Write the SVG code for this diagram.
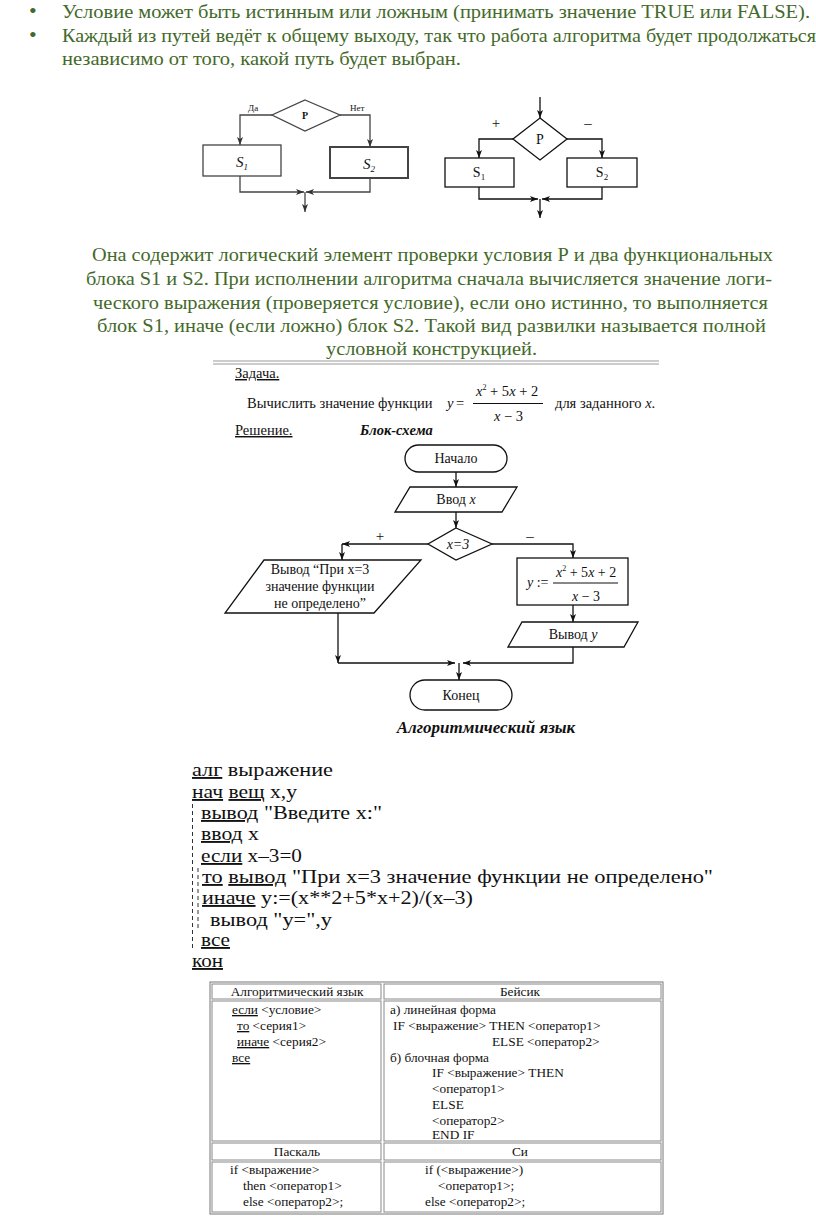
<svg xmlns="http://www.w3.org/2000/svg" width="816" height="1219" viewBox="0 0 816 1219" font-family="'Liberation Serif','DejaVu Serif',serif">
<style>
text,tspan{font-family:"Liberation Serif","DejaVu Serif",serif;fill:#111}
.g{fill:#44692a;font-size:19.5px}
.s{fill:none;stroke:#111;stroke-width:1.3}
.sg{fill:none;stroke:#444;stroke-width:1.3}
.fc{font-size:14px}
.it{font-style:italic}
.code{font-size:18.8px}
.tb{font-size:13.3px}
.cell{fill:none;stroke:#888;stroke-width:1}
.u{text-decoration:underline}
</style>
<defs>
<marker id="arr" markerUnits="userSpaceOnUse" markerWidth="8" markerHeight="6" refX="8" refY="3" orient="auto">
<path d="M0,0 L8,3 L0,6 L2,3 z" fill="#111"/>
</marker>
<marker id="arrg" markerUnits="userSpaceOnUse" markerWidth="8" markerHeight="6" refX="8" refY="3" orient="auto">
<path d="M0,0 L8,3 L0,6 L2,3 z" fill="#333"/>
</marker>
</defs>

<g id="intro">
<text class="g" x="29" y="18" style="font-size:22px">•</text>
<text class="g" x="62" y="18" textLength="748" lengthAdjust="spacingAndGlyphs">Условие может быть истинным или ложным (принимать значение TRUE или FALSE).</text>
<text class="g" x="29" y="42" style="font-size:22px">•</text>
<text class="g" x="62" y="42" textLength="754" lengthAdjust="spacingAndGlyphs">Каждый из путей ведёт к общему выходу, так что работа алгоритма будет продолжаться</text>
<text class="g" x="62" y="65" textLength="399" lengthAdjust="spacingAndGlyphs">независимо от того, какой путь будет выбран.</text>
</g>

<!-- left small diagram -->
<g id="d1-connectors">
<polyline class="sg" points="272,115 240,115 240,145" marker-end="url(#arrg)"/>
<polyline class="sg" points="340,115 370,115 370,147" marker-end="url(#arrg)"/>
<polyline class="sg" points="240,176 240,192 304,192" marker-end="url(#arrg)"/>
<polyline class="sg" points="370,178 370,192 306,192" marker-end="url(#arrg)"/>
<line class="sg" x1="305" y1="192" x2="305" y2="212" marker-end="url(#arrg)"/>
<text x="248" y="111" style="font-size:9px">Да</text>
<text x="350" y="111" style="font-size:9px">Нет</text>
</g>
<g id="d1-P">
<polygon class="sg" points="305,100 340,115 305,131 272,115"/>
<text x="305" y="119" text-anchor="middle" style="font-size:10px;font-weight:bold">P</text>
</g>
<g id="d1-S1">
<rect class="sg" x="203" y="145" width="78" height="31"/>
<text x="242" y="167" text-anchor="middle" class="it" style="font-size:15px">S<tspan dy="3" style="font-size:9px">1</tspan></text>
</g>
<g id="d1-S2">
<rect class="sg" x="330" y="147" width="78" height="31" style="stroke-width:2"/>
<text x="369" y="169" text-anchor="middle" class="it" style="font-size:15px">S<tspan dy="3" style="font-size:9px">2</tspan></text>
</g>

<!-- right small diagram -->
<g id="d2-connectors">
<line class="s" x1="540" y1="97" x2="540" y2="118" marker-end="url(#arr)"/>
<polyline class="s" points="513,139 479,139 479,158" marker-end="url(#arr)"/>
<polyline class="s" points="567,139 602,139 602,158" marker-end="url(#arr)"/>
<polyline class="s" points="479,187 479,199 538,199" marker-end="url(#arr)"/>
<polyline class="s" points="602,187 602,199 542,199" marker-end="url(#arr)"/>
<line class="s" x1="540" y1="199" x2="540" y2="218" marker-end="url(#arr)"/>
<text x="496" y="128" text-anchor="middle" style="font-size:15px">+</text>
<text x="588" y="128" text-anchor="middle" style="font-size:15px">–</text>
</g>
<g id="d2-P">
<polygon class="s" points="540,118 567,139 540,160 513,139"/>
<text x="540" y="144" text-anchor="middle" style="font-size:14px">P</text>
</g>
<g id="d2-S1">
<rect class="s" x="445" y="158" width="69" height="29"/>
<text x="479" y="177" text-anchor="middle" style="font-size:14px">S<tspan dy="3" style="font-size:9px">1</tspan></text>
</g>
<g id="d2-S2">
<rect class="s" x="567" y="158" width="70" height="29"/>
<text x="602" y="177" text-anchor="middle" style="font-size:14px">S<tspan dy="3" style="font-size:9px">2</tspan></text>
</g>

<g id="paragraph">
<text class="g" x="92" y="261" textLength="681" lengthAdjust="spacingAndGlyphs">Она содержит логический элемент проверки условия Р и два функциональных</text>
<text class="g" x="86" y="285" textLength="686" lengthAdjust="spacingAndGlyphs">блока S1 и S2. При исполнении алгоритма сначала вычисляется значение логи-</text>
<text class="g" x="93" y="309" textLength="675" lengthAdjust="spacingAndGlyphs">ческого выражения (проверяется условие), если оно истинно, то выполняется</text>
<text class="g" x="97" y="332" textLength="669" lengthAdjust="spacingAndGlyphs">блок S1, иначе (если ложно) блок S2. Такой вид развилки называется полной</text>
<text class="g" x="326" y="355" textLength="211" lengthAdjust="spacingAndGlyphs">условной конструкцией.</text>
</g>
<g id="separator">
<line x1="213" y1="361" x2="659" y2="361" stroke="#999" stroke-width="1"/>
<line x1="213" y1="364" x2="659" y2="364" stroke="#999" stroke-width="1"/>
</g>

<g id="task" style="font-size:14.5px">
<text x="235" y="378" class="u">Задача.</text>
<text x="247" y="408">Вычислить значение функции</text>
<text x="447" y="408" class="it">y</text>
<text x="456" y="408">=</text>
<line x1="473" y1="403.5" x2="543" y2="403.5" stroke="#111" stroke-width="1"/>
<text x="476" y="396"><tspan class="it">x</tspan><tspan dy="-6" style="font-size:8px">2</tspan><tspan dy="6"> + 5</tspan><tspan class="it">x</tspan> + 2</text>
<text x="494" y="421"><tspan class="it">x</tspan> − 3</text>
<text x="555" y="408">для заданного <tspan class="it">x</tspan>.</text>
<text x="235" y="435" class="u">Решение.</text>
<text x="360" y="435" style="font-weight:bold;font-style:italic">Блок-схема</text>
</g>

<!-- flowchart -->
<g id="fc-connectors">
<line class="s" x1="456" y1="472" x2="456" y2="487" marker-end="url(#arr)"/>
<line class="s" x1="456" y1="512" x2="456" y2="528" marker-end="url(#arr)"/>
<polyline class="s" points="428,544 342,544" marker-end="url(#arr)"/>
<line class="s" x1="342" y1="544" x2="342" y2="560" marker-end="url(#arr)"/>
<polyline class="s" points="492,544 573,544 573,558" marker-end="url(#arr)"/>
<line class="s" x1="573" y1="605" x2="573" y2="622" marker-end="url(#arr)"/>
<polyline class="s" points="573,647 573,663 463,663" marker-end="url(#arr)"/>
<polyline class="s" points="338,613 338,663" marker-end="url(#arr)"/>
<polyline class="s" points="338,663 455,663" marker-end="url(#arr)"/>
<line class="s" x1="459" y1="663" x2="459" y2="680" marker-end="url(#arr)"/>
<text x="380" y="541" text-anchor="middle" style="font-size:15px">+</text>
<text x="530" y="541" text-anchor="middle" style="font-size:15px">–</text>
</g>
<g id="fc-start">
<rect class="s" x="405" y="445" width="102" height="27" rx="13.5"/>
<text class="fc" x="456" y="463" text-anchor="middle">Начало</text>
</g>
<g id="fc-input">
<polygon class="s" points="410,487 517,487 502,512 395,512"/>
<text class="fc" x="456" y="504" text-anchor="middle">Ввод <tspan class="it">x</tspan></text>
</g>
<g id="fc-cond">
<polygon class="s" points="456,528 492,544 456,560 428,544"/>
<text class="fc it" x="458" y="549" text-anchor="middle">x=3</text>
</g>
<g id="fc-out1">
<polygon class="s" points="264,560 421,560 374,613 225,613"/>
<text class="fc" x="320" y="574" text-anchor="middle">Вывод “При x=3</text>
<text class="fc" x="320" y="591" text-anchor="middle">значение функции</text>
<text class="fc" x="320" y="608" text-anchor="middle">не определено”</text>
</g>
<g id="fc-calc">
<rect class="s" x="517" y="558" width="111" height="47"/>
<text class="fc" x="527" y="587"><tspan class="it">y</tspan> :=</text>
<line x1="553" y1="583" x2="618" y2="583" stroke="#111" stroke-width="1"/>
<text class="fc" x="556" y="577"><tspan class="it">x</tspan><tspan dy="-6" style="font-size:8px">2</tspan><tspan dy="6"> + 5</tspan><tspan class="it">x</tspan> + 2</text>
<text class="fc" x="572" y="601"><tspan class="it">x</tspan> − 3</text>
</g>
<g id="fc-out2">
<polygon class="s" points="522,622 638,622 624,647 508,647"/>
<text class="fc" x="573" y="639" text-anchor="middle">Вывод <tspan class="it">y</tspan></text>
</g>
<g id="fc-end">
<rect class="s" x="410" y="680" width="102" height="30" rx="15"/>
<text class="fc" x="461" y="700" text-anchor="middle">Конец</text>
</g>
<text x="486" y="733" text-anchor="middle" style="font-size:17px;font-weight:bold;font-style:italic">Алгоритмический язык</text>

<g id="code">
<text class="code" x="192" y="776" textLength="141" lengthAdjust="spacingAndGlyphs"><tspan class="u">алг</tspan>  выражение</text>
<text class="code" x="192" y="798" textLength="105" lengthAdjust="spacingAndGlyphs"><tspan class="u">нач</tspan> <tspan class="u">вещ</tspan> x,y</text>
<text class="code" x="201" y="819" textLength="181" lengthAdjust="spacingAndGlyphs"><tspan class="u">вывод</tspan> "Введите x:"</text>
<text class="code" x="201" y="840" textLength="58" lengthAdjust="spacingAndGlyphs"><tspan class="u">ввод</tspan> x</text>
<text class="code" x="201" y="862" textLength="101" lengthAdjust="spacingAndGlyphs"><tspan class="u">если</tspan> x–3=0</text>
<text class="code" x="202" y="883" textLength="511" lengthAdjust="spacingAndGlyphs"><tspan class="u">то</tspan> <tspan class="u">вывод</tspan> "При x=3 значение функции не определено"</text>
<text class="code" x="202" y="904" textLength="271" lengthAdjust="spacingAndGlyphs"><tspan class="u">иначе</tspan> y:=(x**2+5*x+2)/(x–3)</text>
<text class="code" x="210" y="926" textLength="122" lengthAdjust="spacingAndGlyphs">вывод "y=",y</text>
<text class="code" x="201" y="946" textLength="29" lengthAdjust="spacingAndGlyphs"><tspan class="u">все</tspan></text>
<text class="code" x="192" y="967" textLength="31" lengthAdjust="spacingAndGlyphs"><tspan class="u">кон</tspan></text>
<line x1="192.5" y1="804" x2="192.5" y2="950" stroke="#333" stroke-width="1" stroke-dasharray="4,3"/>
<line x1="198" y1="868" x2="198" y2="930" stroke="#333" stroke-width="1" stroke-dasharray="4,3"/>
</g>

<g id="table">
<rect class="cell" x="210" y="982" width="453" height="232" style="stroke:#777"/>
<rect class="cell" x="212" y="984" width="169" height="15"/>
<rect class="cell" x="384" y="984" width="277" height="15"/>
<rect class="cell" x="212" y="1001" width="169" height="140"/>
<rect class="cell" x="384" y="1001" width="277" height="140"/>
<rect class="cell" x="212" y="1143" width="169" height="17"/>
<rect class="cell" x="384" y="1143" width="277" height="17"/>
<rect class="cell" x="212" y="1162" width="169" height="50"/>
<rect class="cell" x="384" y="1162" width="277" height="50"/>
<text class="tb" x="297" y="996" text-anchor="middle">Алгоритмический язык</text>
<text class="tb" x="520" y="996" text-anchor="middle">Бейсик</text>
<text class="tb" x="232" y="1014"><tspan class="u">если</tspan>  &lt;условие&gt;</text>
<text class="tb" x="237" y="1030"><tspan class="u">то</tspan> &lt;серия1&gt;</text>
<text class="tb" x="237" y="1046"><tspan class="u">иначе</tspan> &lt;серия2&gt;</text>
<text class="tb" x="232" y="1062"><tspan class="u">все</tspan></text>
<text class="tb" x="390" y="1014">а) линейная форма</text>
<text class="tb" x="393" y="1030">IF &lt;выражение&gt; THEN &lt;оператор1&gt;</text>
<text class="tb" x="492" y="1046">ELSE &lt;оператор2&gt;</text>
<text class="tb" x="390" y="1062">б) блочная форма</text>
<text class="tb" x="432" y="1077">IF &lt;выражение&gt;  THEN</text>
<text class="tb" x="432" y="1093">&lt;оператор1&gt;</text>
<text class="tb" x="432" y="1109">ELSE</text>
<text class="tb" x="432" y="1125">&lt;оператор2&gt;</text>
<text class="tb" x="432" y="1139">END IF</text>
<text class="tb" x="297" y="1156" text-anchor="middle">Паскаль</text>
<text class="tb" x="520" y="1156" text-anchor="middle">Си</text>
<text class="tb" x="230" y="1174">if  &lt;выражение&gt;</text>
<text class="tb" x="243" y="1190">then &lt;оператор1&gt;</text>
<text class="tb" x="243" y="1206">else &lt;оператор2&gt;;</text>
<text class="tb" x="425" y="1174">if (&lt;выражение&gt;)</text>
<text class="tb" x="438" y="1190">&lt;оператор1&gt;;</text>
<text class="tb" x="425" y="1206">else &lt;оператор2&gt;;</text>
</g>
</svg>
